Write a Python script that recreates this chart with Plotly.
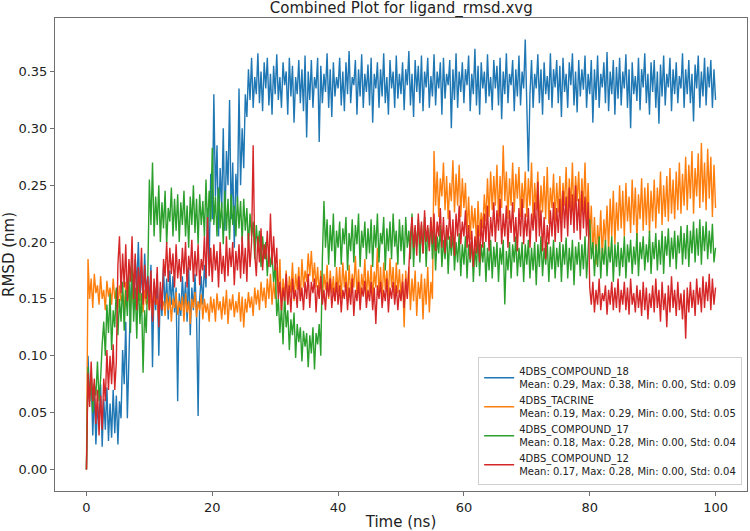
import plotly.graph_objects as go

# time axis (ns), one sample every 0.25 ns
time_ns = [i * 0.25 for i in range(401)]

compound_18 = [
    0.000, 0.100, 0.060, 0.085, 0.030, 0.070, 0.022, 0.055, 0.040, 0.075, 0.020, 0.062, 0.035, 0.072, 0.025, 0.058, 0.028, 0.070, 0.032, 0.065,
    0.022, 0.060, 0.045, 0.105, 0.075, 0.130, 0.045, 0.100, 0.150, 0.175, 0.140, 0.185, 0.160, 0.200, 0.150, 0.178, 0.145, 0.190, 0.155, 0.170,
    0.148, 0.180, 0.090, 0.165, 0.140, 0.172, 0.100, 0.160, 0.135, 0.178, 0.140, 0.168, 0.132, 0.175, 0.145, 0.170, 0.138, 0.160, 0.060, 0.155,
    0.135, 0.170, 0.142, 0.165, 0.130, 0.178, 0.118, 0.160, 0.140, 0.172, 0.135, 0.047, 0.150, 0.170, 0.145, 0.180, 0.160, 0.230, 0.180, 0.260,
    0.220, 0.330, 0.240, 0.285, 0.205, 0.265, 0.230, 0.300, 0.210, 0.280, 0.250, 0.325, 0.220, 0.270, 0.195, 0.260, 0.235, 0.335, 0.250, 0.300,
    0.265, 0.330, 0.310, 0.352, 0.325, 0.362, 0.318, 0.345, 0.330, 0.366, 0.322, 0.350, 0.315, 0.358, 0.335, 0.362, 0.320, 0.348, 0.312, 0.355,
    0.330, 0.365, 0.325, 0.345, 0.318, 0.358, 0.338, 0.350, 0.312, 0.362, 0.328, 0.355, 0.305, 0.345, 0.330, 0.360, 0.322, 0.352, 0.315, 0.364,
    0.292, 0.350, 0.325, 0.360, 0.318, 0.345, 0.335, 0.362, 0.288, 0.355, 0.322, 0.348, 0.332, 0.366, 0.318, 0.352, 0.310, 0.358, 0.328, 0.345,
    0.335, 0.362, 0.320, 0.350, 0.315, 0.358, 0.330, 0.368, 0.322, 0.345, 0.338, 0.360, 0.312, 0.352, 0.328, 0.365, 0.318, 0.348, 0.332, 0.356,
    0.320, 0.362, 0.305, 0.348, 0.335, 0.358, 0.318, 0.352, 0.328, 0.366, 0.322, 0.345, 0.312, 0.360, 0.335, 0.350, 0.318, 0.364, 0.326, 0.348,
    0.330, 0.358, 0.316, 0.352, 0.338, 0.368, 0.320, 0.348, 0.310, 0.360, 0.332, 0.355, 0.322, 0.364, 0.315, 0.350, 0.336, 0.362, 0.318, 0.346,
    0.328, 0.365, 0.320, 0.350, 0.335, 0.358, 0.312, 0.362, 0.326, 0.348, 0.338, 0.360, 0.300, 0.352, 0.325, 0.366, 0.318, 0.350, 0.332, 0.358,
    0.322, 0.352, 0.338, 0.364, 0.315, 0.348, 0.330, 0.370, 0.320, 0.355, 0.312, 0.358, 0.335, 0.350, 0.322, 0.365, 0.328, 0.345, 0.316, 0.360,
    0.335, 0.355, 0.320, 0.362, 0.308, 0.350, 0.330, 0.366, 0.322, 0.348, 0.338, 0.360, 0.315, 0.352, 0.328, 0.364, 0.320, 0.350, 0.335, 0.378,
    0.320, 0.262, 0.330, 0.360, 0.318, 0.348, 0.335, 0.365, 0.322, 0.352, 0.312, 0.358, 0.330, 0.346, 0.325, 0.366, 0.318, 0.352, 0.336, 0.360,
    0.322, 0.355, 0.310, 0.362, 0.332, 0.348, 0.318, 0.358, 0.338, 0.366, 0.320, 0.350, 0.314, 0.360, 0.328, 0.352, 0.334, 0.364, 0.318, 0.348,
    0.330, 0.360, 0.305, 0.352, 0.325, 0.364, 0.318, 0.348, 0.336, 0.358, 0.322, 0.367, 0.315, 0.350, 0.330, 0.360, 0.312, 0.354, 0.326, 0.362,
    0.320, 0.350, 0.335, 0.365, 0.318, 0.352, 0.300, 0.358, 0.330, 0.346, 0.324, 0.362, 0.316, 0.352, 0.336, 0.366, 0.322, 0.348, 0.312, 0.358,
    0.332, 0.360, 0.318, 0.350, 0.304, 0.356, 0.328, 0.364, 0.320, 0.348, 0.336, 0.362, 0.315, 0.352, 0.330, 0.358, 0.322, 0.346, 0.335, 0.366,
    0.318, 0.352, 0.330, 0.360, 0.322, 0.348, 0.306, 0.356, 0.335, 0.364, 0.318, 0.350, 0.328, 0.362, 0.320, 0.354, 0.336, 0.360, 0.318, 0.352,
    0.325,
]

tacrine = [
    0.000, 0.185, 0.150, 0.168, 0.142, 0.172, 0.155, 0.162, 0.145, 0.170, 0.150, 0.158, 0.140, 0.166, 0.152, 0.160, 0.145, 0.168, 0.150, 0.158,
    0.142, 0.162, 0.148, 0.155, 0.138, 0.165, 0.150, 0.158, 0.142, 0.160, 0.145, 0.152, 0.140, 0.162, 0.148, 0.155, 0.138, 0.158, 0.145, 0.150,
    0.140, 0.155, 0.135, 0.158, 0.145, 0.150, 0.132, 0.156, 0.142, 0.148, 0.135, 0.155, 0.140, 0.152, 0.130, 0.150, 0.142, 0.156, 0.136, 0.148,
    0.140, 0.152, 0.130, 0.155, 0.138, 0.148, 0.128, 0.150, 0.142, 0.156, 0.134, 0.148, 0.140, 0.154, 0.132, 0.150, 0.138, 0.146, 0.130, 0.152,
    0.138, 0.150, 0.130, 0.155, 0.140, 0.148, 0.132, 0.152, 0.136, 0.158, 0.128, 0.150, 0.140, 0.154, 0.134, 0.148, 0.138, 0.156, 0.130, 0.152,
    0.125, 0.150, 0.138, 0.156, 0.142, 0.152, 0.135, 0.160, 0.145, 0.158, 0.140, 0.165, 0.148, 0.160, 0.142, 0.168, 0.150, 0.172, 0.145, 0.165,
    0.150, 0.178, 0.155, 0.185, 0.140, 0.168, 0.150, 0.175, 0.145, 0.170, 0.155, 0.182, 0.148, 0.172, 0.158, 0.178, 0.150, 0.185, 0.160, 0.175,
    0.165, 0.190, 0.170, 0.192, 0.165, 0.182, 0.160, 0.178, 0.152, 0.175, 0.150, 0.172, 0.158, 0.180, 0.150, 0.175, 0.155, 0.170, 0.148, 0.178,
    0.155, 0.178, 0.150, 0.182, 0.160, 0.175, 0.148, 0.180, 0.155, 0.172, 0.160, 0.188, 0.152, 0.176, 0.148, 0.172, 0.158, 0.185, 0.150, 0.175,
    0.155, 0.180, 0.150, 0.174, 0.160, 0.195, 0.152, 0.178, 0.148, 0.182, 0.158, 0.175, 0.152, 0.186, 0.160, 0.178, 0.150, 0.182, 0.155, 0.176,
    0.150, 0.172, 0.125, 0.175, 0.152, 0.178, 0.140, 0.168, 0.148, 0.175, 0.135, 0.165, 0.150, 0.172, 0.132, 0.168, 0.145, 0.178, 0.138, 0.165,
    0.150, 0.280, 0.232, 0.262, 0.222, 0.256, 0.240, 0.270, 0.228, 0.258, 0.220, 0.252, 0.236, 0.272, 0.226, 0.260, 0.232, 0.268, 0.222, 0.256,
    0.230, 0.252, 0.208, 0.240, 0.202, 0.232, 0.212, 0.230, 0.198, 0.236, 0.205, 0.226, 0.212, 0.242, 0.218, 0.256, 0.222, 0.262, 0.228, 0.258,
    0.232, 0.268, 0.222, 0.258, 0.230, 0.285, 0.236, 0.262, 0.220, 0.256, 0.232, 0.270, 0.226, 0.260, 0.238, 0.266, 0.222, 0.252, 0.230, 0.262,
    0.222, 0.256, 0.232, 0.270, 0.218, 0.252, 0.228, 0.262, 0.212, 0.250, 0.226, 0.258, 0.220, 0.266, 0.216, 0.248, 0.230, 0.260, 0.218, 0.252,
    0.226, 0.258, 0.220, 0.252, 0.232, 0.266, 0.222, 0.256, 0.230, 0.270, 0.218, 0.258, 0.236, 0.262, 0.222, 0.256, 0.228, 0.270, 0.220, 0.252,
    0.205, 0.232, 0.190, 0.222, 0.180, 0.215, 0.195, 0.228, 0.185, 0.220, 0.200, 0.232, 0.192, 0.238, 0.205, 0.245, 0.198, 0.235, 0.210, 0.250,
    0.212, 0.245, 0.205, 0.252, 0.218, 0.240, 0.208, 0.255, 0.215, 0.248, 0.202, 0.242, 0.220, 0.256, 0.210, 0.248, 0.215, 0.252, 0.208, 0.245,
    0.218, 0.255, 0.212, 0.248, 0.225, 0.262, 0.215, 0.250, 0.222, 0.258, 0.218, 0.265, 0.225, 0.255, 0.220, 0.262, 0.228, 0.270, 0.225, 0.260,
    0.232, 0.275, 0.228, 0.268, 0.238, 0.280, 0.225, 0.265, 0.240, 0.278, 0.230, 0.287, 0.235, 0.270, 0.228, 0.282, 0.238, 0.275, 0.222, 0.268,
    0.230,
]

compound_17 = [
    0.000, 0.090, 0.060, 0.085, 0.050, 0.075, 0.065, 0.095, 0.060, 0.080, 0.110, 0.130, 0.100, 0.145, 0.120, 0.155, 0.105, 0.140, 0.125, 0.160,
    0.118, 0.150, 0.130, 0.165, 0.122, 0.158, 0.135, 0.172, 0.120, 0.185, 0.130, 0.160, 0.115, 0.170, 0.128, 0.155, 0.085, 0.140, 0.120, 0.170,
    0.255, 0.215, 0.270, 0.205, 0.240, 0.215, 0.250, 0.200, 0.235, 0.212, 0.245, 0.198, 0.230, 0.218, 0.248, 0.205, 0.238, 0.210, 0.242, 0.200,
    0.235, 0.215, 0.245, 0.205, 0.232, 0.195, 0.240, 0.215, 0.250, 0.208, 0.238, 0.198, 0.242, 0.215, 0.236, 0.205, 0.255, 0.210, 0.245, 0.218,
    0.283, 0.215, 0.240, 0.205, 0.248, 0.212, 0.235, 0.198, 0.245, 0.210, 0.238, 0.202, 0.242, 0.215, 0.232, 0.205, 0.240, 0.212, 0.236, 0.200,
    0.238, 0.210, 0.230, 0.195, 0.225, 0.205, 0.218, 0.185, 0.215, 0.195, 0.210, 0.178, 0.205, 0.185, 0.200, 0.170, 0.195, 0.178, 0.190, 0.165,
    0.180, 0.135, 0.150, 0.120, 0.145, 0.110, 0.155, 0.125, 0.140, 0.105, 0.132, 0.118, 0.138, 0.098, 0.128, 0.112, 0.125, 0.095, 0.122, 0.108,
    0.120, 0.090, 0.118, 0.102, 0.125, 0.088, 0.120, 0.110, 0.128, 0.100, 0.185, 0.236, 0.195, 0.220, 0.180, 0.215, 0.192, 0.225, 0.178, 0.210,
    0.195, 0.218, 0.180, 0.212, 0.198, 0.222, 0.175, 0.208, 0.192, 0.220, 0.182, 0.215, 0.198, 0.225, 0.178, 0.210, 0.195, 0.218, 0.185, 0.212,
    0.190, 0.220, 0.178, 0.215, 0.195, 0.225, 0.182, 0.208, 0.198, 0.222, 0.175, 0.212, 0.192, 0.218, 0.185, 0.225, 0.196, 0.210, 0.180, 0.220,
    0.192, 0.215, 0.180, 0.222, 0.195, 0.210, 0.185, 0.225, 0.178, 0.212, 0.196, 0.220, 0.182, 0.215, 0.190, 0.222, 0.178, 0.212, 0.195, 0.218,
    0.185, 0.210, 0.175, 0.205, 0.190, 0.215, 0.178, 0.202, 0.185, 0.212, 0.172, 0.205, 0.188, 0.210, 0.175, 0.200, 0.182, 0.208, 0.170, 0.198,
    0.180, 0.205, 0.168, 0.198, 0.182, 0.202, 0.165, 0.195, 0.178, 0.205, 0.170, 0.198, 0.182, 0.200, 0.165, 0.195, 0.175, 0.202, 0.168, 0.196,
    0.178, 0.200, 0.165, 0.195, 0.180, 0.202, 0.145, 0.192, 0.175, 0.200, 0.168, 0.198, 0.182, 0.205, 0.170, 0.195, 0.178, 0.200, 0.165, 0.198,
    0.180, 0.202, 0.168, 0.195, 0.175, 0.200, 0.162, 0.198, 0.178, 0.205, 0.170, 0.195, 0.180, 0.200, 0.165, 0.196, 0.176, 0.202, 0.168, 0.195,
    0.178, 0.200, 0.165, 0.198, 0.180, 0.204, 0.168, 0.195, 0.175, 0.202, 0.162, 0.196, 0.180, 0.200, 0.170, 0.198, 0.176, 0.205, 0.168, 0.196,
    0.220, 0.185, 0.200, 0.170, 0.198, 0.178, 0.205, 0.168, 0.195, 0.180, 0.202, 0.170, 0.196, 0.182, 0.205, 0.165, 0.198, 0.178, 0.200, 0.170,
    0.195, 0.178, 0.205, 0.168, 0.198, 0.182, 0.202, 0.172, 0.196, 0.180, 0.208, 0.170, 0.200, 0.185, 0.205, 0.175, 0.198, 0.182, 0.210, 0.172,
    0.200, 0.185, 0.208, 0.175, 0.202, 0.180, 0.210, 0.172, 0.205, 0.188, 0.212, 0.178, 0.204, 0.185, 0.210, 0.176, 0.206, 0.190, 0.214, 0.180,
    0.208, 0.185, 0.215, 0.178, 0.210, 0.190, 0.218, 0.182, 0.212, 0.188, 0.220, 0.180, 0.214, 0.192, 0.218, 0.185, 0.210, 0.190, 0.216, 0.182,
    0.195,
]

compound_12 = [
    0.000, 0.085, 0.055, 0.095, 0.060, 0.080, 0.040, 0.070, 0.030, 0.065, 0.035, 0.080, 0.060, 0.105, 0.070, 0.100, 0.075, 0.110, 0.070, 0.095,
    0.180, 0.205, 0.155, 0.190, 0.160, 0.198, 0.148, 0.185, 0.165, 0.205, 0.150, 0.190, 0.140, 0.178, 0.155, 0.195, 0.145, 0.180, 0.150, 0.170,
    0.140, 0.175, 0.130, 0.168, 0.145, 0.178, 0.125, 0.165, 0.140, 0.185, 0.170, 0.200, 0.165, 0.195, 0.172, 0.190, 0.160, 0.198, 0.168, 0.185,
    0.165, 0.195, 0.172, 0.200, 0.160, 0.188, 0.175, 0.202, 0.165, 0.192, 0.170, 0.198, 0.162, 0.185, 0.175, 0.205, 0.168, 0.222, 0.170, 0.195,
    0.165, 0.198, 0.175, 0.192, 0.160, 0.200, 0.172, 0.188, 0.165, 0.205, 0.170, 0.195, 0.178, 0.200, 0.162, 0.192, 0.175, 0.198, 0.168, 0.205,
    0.172, 0.195, 0.165, 0.208, 0.178, 0.200, 0.285, 0.190, 0.170, 0.205, 0.182, 0.212, 0.175, 0.198, 0.185, 0.210, 0.178, 0.225, 0.180, 0.205,
    0.175, 0.195, 0.150, 0.165, 0.140, 0.160, 0.148, 0.172, 0.145, 0.162, 0.138, 0.168, 0.150, 0.158, 0.142, 0.170, 0.148, 0.160, 0.140, 0.165,
    0.150, 0.172, 0.142, 0.165, 0.155, 0.168, 0.138, 0.162, 0.150, 0.170, 0.145, 0.158, 0.140, 0.165, 0.152, 0.168, 0.142, 0.160, 0.148, 0.165,
    0.145, 0.162, 0.138, 0.158, 0.150, 0.165, 0.140, 0.160, 0.145, 0.168, 0.135, 0.158, 0.148, 0.165, 0.140, 0.160, 0.152, 0.166, 0.142, 0.158,
    0.148, 0.165, 0.140, 0.160, 0.128, 0.162, 0.150, 0.165, 0.142, 0.158, 0.148, 0.168, 0.138, 0.160, 0.150, 0.165, 0.145, 0.162, 0.140, 0.158,
    0.148, 0.165, 0.142, 0.168, 0.150, 0.185, 0.205, 0.222, 0.195, 0.215, 0.188, 0.225, 0.198, 0.218, 0.190, 0.228, 0.200, 0.215, 0.192, 0.222,
    0.198, 0.225, 0.192, 0.218, 0.205, 0.230, 0.195, 0.222, 0.190, 0.215, 0.202, 0.228, 0.195, 0.220, 0.188, 0.225, 0.205, 0.232, 0.198, 0.218,
    0.205, 0.228, 0.195, 0.215, 0.185, 0.210, 0.178, 0.205, 0.190, 0.215, 0.182, 0.220, 0.195, 0.225, 0.200, 0.232, 0.192, 0.222, 0.205, 0.235,
    0.200, 0.228, 0.210, 0.238, 0.198, 0.225, 0.205, 0.232, 0.195, 0.228, 0.208, 0.235, 0.200, 0.222, 0.192, 0.230, 0.205, 0.238, 0.198, 0.225,
    0.205, 0.230, 0.195, 0.225, 0.210, 0.235, 0.200, 0.253, 0.205, 0.228, 0.192, 0.222, 0.185, 0.215, 0.198, 0.228, 0.205, 0.235, 0.200, 0.230,
    0.208, 0.238, 0.200, 0.245, 0.212, 0.240, 0.205, 0.248, 0.215, 0.242, 0.208, 0.250, 0.210, 0.238, 0.202, 0.245, 0.212, 0.240, 0.205, 0.235,
    0.160, 0.145, 0.165, 0.138, 0.158, 0.145, 0.168, 0.140, 0.155, 0.148, 0.162, 0.136, 0.158, 0.145, 0.165, 0.140, 0.160, 0.142, 0.168, 0.138,
    0.158, 0.145, 0.165, 0.140, 0.160, 0.136, 0.168, 0.145, 0.155, 0.138, 0.162, 0.142, 0.158, 0.135, 0.165, 0.140, 0.160, 0.132, 0.155, 0.142,
    0.162, 0.138, 0.168, 0.142, 0.158, 0.130, 0.165, 0.140, 0.155, 0.125, 0.162, 0.138, 0.170, 0.142, 0.158, 0.135, 0.165, 0.140, 0.155, 0.132,
    0.158, 0.115, 0.160, 0.138, 0.165, 0.142, 0.158, 0.135, 0.168, 0.145, 0.160, 0.138, 0.170, 0.142, 0.165, 0.148, 0.172, 0.140, 0.168, 0.145,
    0.160,
]

series_names = [
    "4DBS_COMPOUND_18<br>Mean: 0.29, Max: 0.38, Min: 0.00, Std: 0.09",
    "4DBS_TACRINE<br>Mean: 0.19, Max: 0.29, Min: 0.00, Std: 0.05",
    "4DBS_COMPOUND_17<br>Mean: 0.18, Max: 0.28, Min: 0.00, Std: 0.04",
    "4DBS_COMPOUND_12<br>Mean: 0.17, Max: 0.28, Min: 0.00, Std: 0.04",
]
series_values = [compound_18, tacrine, compound_17, compound_12]
series_colors = ["#1f77b4", "#ff7f0e", "#2ca02c", "#d62728"]

fig = go.Figure()
for name, vals, col in zip(series_names, series_values, series_colors):
    n = min(len(vals), len(time_ns))
    fig.add_trace(go.Scatter(
        x=time_ns[:n], y=vals[:n], mode="lines", name=name,
        line=dict(color=col, width=1.4),
    ))

font_family = "DejaVu Sans, Arial, sans-serif"
axis_common = dict(
    showline=True, linecolor="#707070", linewidth=1, mirror=True,
    ticks="outside", ticklen=4, tickcolor="#707070",
    showgrid=False, zeroline=False,
    tickfont=dict(size=13, color="#222", family=font_family),
)

fig.update_layout(
    width=750, height=531,
    margin=dict(l=55, r=2, t=18, b=37),
    paper_bgcolor="white", plot_bgcolor="white",
    font=dict(family=font_family, color="#222"),
    title=dict(text="Combined Plot for ligand_rmsd.xvg", x=0.535, xanchor="center",
               y=0.985, yanchor="middle", font=dict(size=15, color="#222")),
    xaxis=dict(range=[-5, 105], tickvals=[0, 20, 40, 60, 80, 100],
               title=dict(text="Time (ns)", font=dict(size=15), standoff=4),
               **axis_common),
    yaxis=dict(range=[-0.0189, 0.397],
               tickvals=[0.0, 0.05, 0.10, 0.15, 0.20, 0.25, 0.30, 0.35],
               ticktext=["0.00", "0.05", "0.10", "0.15", "0.20", "0.25", "0.30", "0.35"],
               title=dict(text="RMSD (nm)", font=dict(size=15), standoff=6),
               **axis_common),
    legend=dict(x=0.993, y=0.012, xanchor="right", yanchor="bottom",
                bgcolor="rgba(255,255,255,0.85)", bordercolor="#d0d0d0", borderwidth=1,
                font=dict(size=10, color="#222", family=font_family),
                itemwidth=30),
    showlegend=True,
)

fig.write_html("out.html")
